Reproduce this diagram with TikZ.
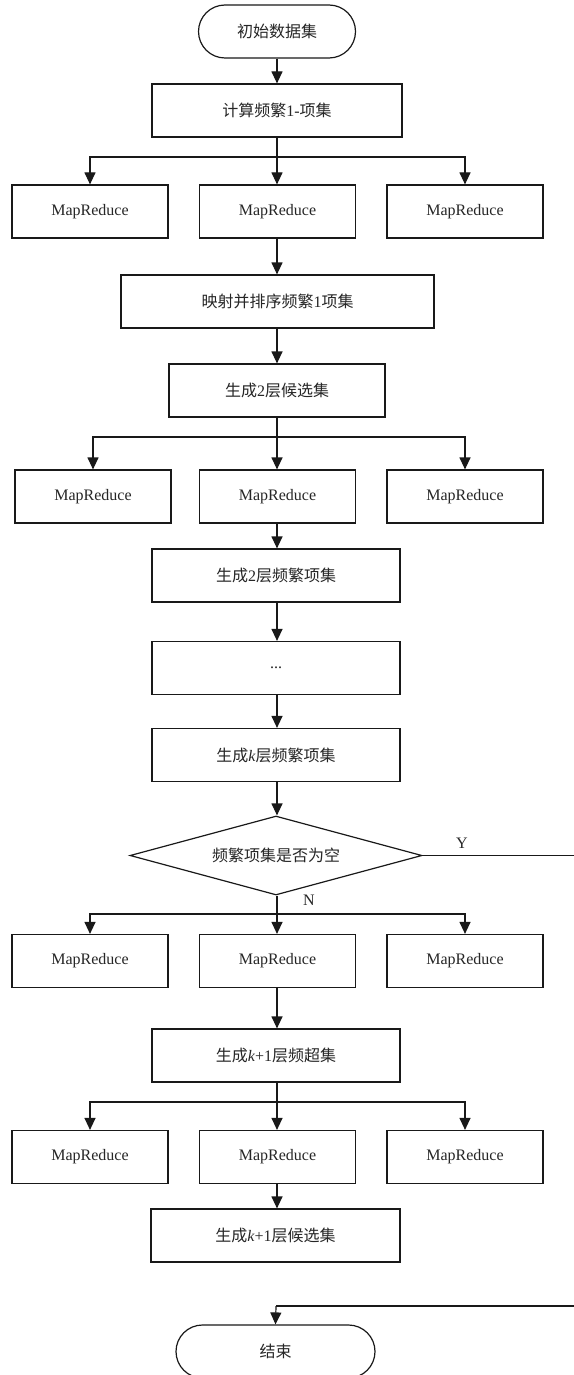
\documentclass[tikz,border=0pt]{standalone}
\usepackage{fontspec}
\setmainfont{Liberation Serif}
\newfontfamily\cjk{Noto Sans CJK SC}
\usetikzlibrary{arrows.meta,shapes.geometric,shapes.misc}
\begin{document}
\begin{tikzpicture}[x=1pt,y=-1pt,
  line width=1.2pt,
  every node/.style={font=\fontsize{16}{18}\selectfont, text=black!85, inner sep=0pt},
  box/.style={draw=black!90, rectangle, minimum height=53pt},
  mr/.style={box, minimum width=156pt},
  term/.style={draw=black!90, rounded rectangle, rounded rectangle arc length=180, minimum height=53pt},
  dec/.style={draw=black!90, diamond, aspect=3.7, minimum width=292pt, minimum height=79pt},
  arr/.style={draw=black!90, line width=1.2pt, -{Triangle[width=11pt,length=12pt]}},
  ln/.style={draw=black!90}]
\useasboundingbox (0,0) rectangle (573,1375);
\fill[white] (0,0) rectangle (573,1375);

\node[term, minimum width=157pt] (start) at (277,31.5) {{\cjk 初始数据集}};
\node[box, minimum width=250pt] (b1) at (277,110.5) {{\cjk 计算频繁}1-{\cjk 项集}};
\node[mr] (m1l) at (90,211.5) {MapReduce};
\node[mr] (m1c) at (277.5,211.5) {MapReduce};
\node[mr] (m1r) at (465,211.5) {MapReduce};
\node[box, minimum width=313pt] (b2) at (277.5,301.5) {{\cjk 映射并排序频繁}1{\cjk 项集}};
\node[box, minimum width=216pt] (b3) at (277,390.5) {{\cjk 生成}2{\cjk 层候选集}};
\node[mr] (m2l) at (93,496.5) {MapReduce};
\node[mr] (m2c) at (277.5,496.5) {MapReduce};
\node[mr] (m2r) at (465,496.5) {MapReduce};
\node[box, minimum width=248pt] (b4) at (276,575.5) {{\cjk 生成}2{\cjk 层频繁项集}};
\node[box, minimum width=248pt] (b5) at (276,668) {...};
\node[box, minimum width=248pt] (b6) at (276,755) {{\cjk 生成}\textit{k}{\cjk 层频繁项集}};
\node[dec] (d) at (276,855.5) {{\cjk 频繁项集是否为空}};
\node[mr] (m3l) at (90,961) {MapReduce};
\node[mr] (m3c) at (277.5,961) {MapReduce};
\node[mr] (m3r) at (465,961) {MapReduce};
\node[box, minimum width=248pt] (b7) at (276,1055.5) {{\cjk 生成}\textit{k}+1{\cjk 层频超集}};
\node[mr] (m4l) at (90,1157) {MapReduce};
\node[mr] (m4c) at (277.5,1157) {MapReduce};
\node[mr] (m4r) at (465,1157) {MapReduce};
\node[box, minimum width=249pt] (b8) at (275.5,1235.5) {{\cjk 生成}\textit{k}+1{\cjk 层候选集}};
\node[term, minimum width=199pt] (end) at (275.5,1351.5) {{\cjk 结束}};

\node (ylab) at (462,843) {Y};
\node (nlab) at (309,900) {N};

\coordinate (j0) at (277,84);
\coordinate (j1) at (277,157);
\coordinate (j2) at (277,437);
\coordinate (j3) at (277,914);
\coordinate (j4) at (277,1102);
\coordinate (yr) at (578,855.5);
\coordinate (yb) at (578,1306);
\coordinate (ye) at (276,1306);

\draw[arr] (start.south -| j0) -- (b1.north -| j0);
\draw[ln] (b1.south -| j1) -- (j1);
\draw[arr] (j1) -| (m1l.north);
\draw[arr] (j1) -- (m1c.north -| j1);
\draw[arr] (j1) -| (m1r.north);
\draw[arr] (m1c.south -| j1) -- (b2.north -| j1);
\draw[arr] (b2.south -| j1) -- (b3.north -| j1);
\draw[ln] (b3.south -| j1) -- (j2);
\draw[arr] (j2) -| (m2l.north);
\draw[arr] (j2) -- (m2c.north -| j2);
\draw[arr] (j2) -| (m2r.north);
\draw[arr] (m2c.south -| j2) -- (b4.north -| j2);
\draw[arr] (b4.south -| j2) -- (b5.north -| j2);
\draw[arr] (b5.south -| j2) -- (b6.north -| j2);
\draw[arr] (b6.south -| j2) -- (d.north -| j2);
\draw[ln] (d.south -| j3) -- (j3);
\draw[arr] (j3) -| (m3l.north);
\draw[arr] (j3) -- (m3c.north -| j3);
\draw[arr] (j3) -| (m3r.north);
\draw[arr] (m3c.south -| j3) -- (b7.north -| j3);
\draw[ln] (b7.south -| j4) -- (j4);
\draw[arr] (j4) -| (m4l.north);
\draw[arr] (j4) -- (m4c.north -| j4);
\draw[arr] (j4) -| (m4r.north);
\draw[arr] (m4c.south -| j4) -- (b8.north -| j4);
\draw[ln] (d.east) -- (yr) -- (yb) -- (ye);
\draw[arr] (ye) -- (end.north);
\end{tikzpicture}
\end{document}
